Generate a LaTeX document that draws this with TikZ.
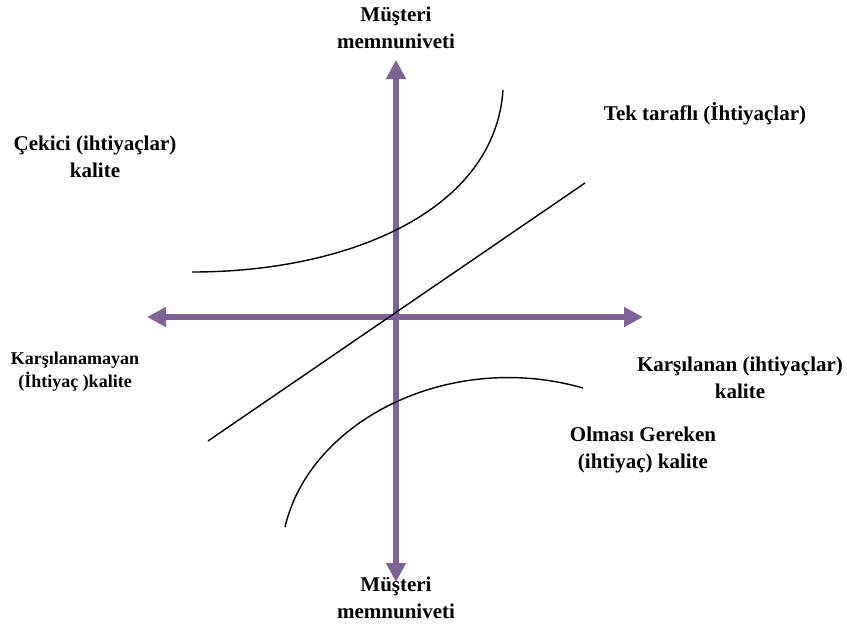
\documentclass[tikz,border=0pt]{standalone}
\usepackage{fontspec}
\setmainfont{Liberation Serif}
\usetikzlibrary{arrows.meta}
\definecolor{axispurple}{RGB}{126,98,152}
\tikzset{
  axis/.style={draw=axispurple, line width=6pt, {Triangle[width=19pt,length=19pt]}-{Triangle[width=19pt,length=19pt]}},
  curve/.style={draw=black, line width=1.4pt},
  lbl/.style={font=\bfseries\fontsize{21}{27}\selectfont, align=center, inner sep=0pt},
  lblsmall/.style={font=\bfseries\fontsize{18}{23}\selectfont, align=center, inner sep=0pt}
}
\begin{document}
\begin{tikzpicture}[x=1pt,y=-1pt]
\useasboundingbox (0,0) rectangle (847,630);
\coordinate (vt) at (396,60);
\coordinate (vb) at (396,582);
\coordinate (hl) at (147,317);
\coordinate (hr) at (643,317);
\coordinate (d1) at (208,441);
\coordinate (d2) at (585,183);
\coordinate (t0) at (192,272);
\coordinate (t1) at (503,90);
\coordinate (b0) at (285,527);
\coordinate (b1) at (583,388);
\draw[axis] (hl) -- (hr);
\draw[axis] (vb) -- (vt);
\draw[curve] (d1) -- (d2);
\draw[curve] (t0) .. controls (350,272) and (495,210) .. (t1);
\draw[curve] (b0) .. controls (310,420) and (450,350) .. (b1);
\node[lbl] (top) at (396,28) {Müşteri\\memnuniveti};
\node[lbl] (bot) at (396,598) {Müşteri\\memnuniveti};
\node[lbl] (cek) at (95,157) {Çekici (ihtiyaçlar)\\kalite};
\node[lbl] (tek) at (705,114) {Tek taraflı (İhtiyaçlar)};
\node[lblsmall] (kno) at (75,372) {Karşılanamayan\\(İhtiyaç )kalite};
\node[lbl] (kar) at (740,378) {Karşılanan (ihtiyaçlar)\\kalite};
\node[lbl] (olm) at (643,450) {Olması Gereken\\(ihtiyaç) kalite};
\end{tikzpicture}
\end{document}
